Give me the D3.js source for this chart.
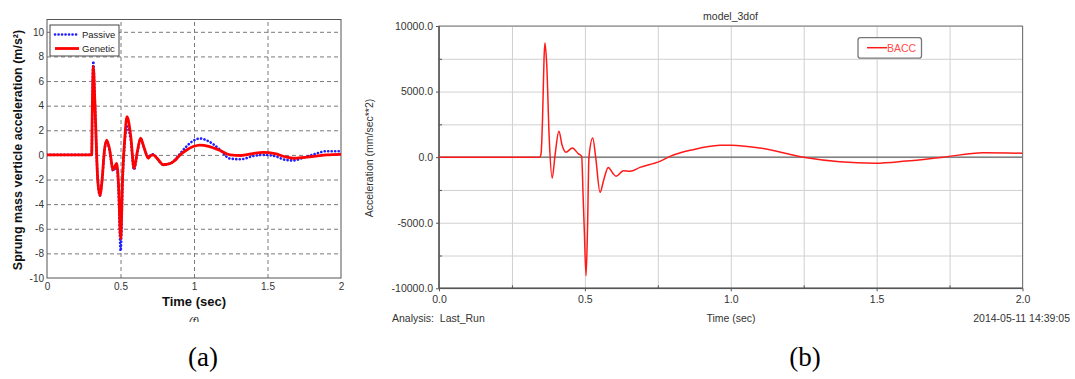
<!DOCTYPE html>
<html><head><meta charset="utf-8">
<script src="https://cdn.jsdelivr.net/npm/d3@7"></script>
<style>
body{margin:0;background:#fff;}
svg{display:block;}
text{font-family:"Liberation Sans",Arial,sans-serif;}
text.serif{font-family:"Liberation Serif","Times New Roman",serif;}
</style></head>
<body>
<script>
// ---------- Data: panel (a) ----------
const timeA = [0, 0.304, 0.308, 0.315, 0.325, 0.345, 0.36, 0.375, 0.39, 0.406, 0.425, 0.45, 0.474, 0.487, 0.501, 0.515, 0.53, 0.544, 0.57, 0.592, 0.615, 0.637, 0.66, 0.689, 0.706, 0.723, 0.75, 0.791, 0.837, 0.87, 0.905, 0.95, 0.995, 1.04, 1.1, 1.17, 1.245, 1.32, 1.4, 1.47, 1.55, 1.62, 1.676, 1.75, 1.83, 1.9, 2.0];
const genetic = [0, 0, 3.5, 7.2, 4.5, -2.0, -3.3, -2.0, 0.3, 1.2, 0.5, -1.2, -0.7, -2.5, -6.8, -1.5, 1.5, 3.1, 1.5, -1.1, 0.3, 1.36, 0.6, -0.27, -0.05, 0.0, -0.3, -0.8, -0.7, -0.45, 0.0, 0.4, 0.68, 0.8, 0.7, 0.4, 0.0, -0.05, 0.1, 0.2, 0.1, -0.15, -0.27, -0.2, -0.1, 0.0, 0.05];
const passive = [0, 0, 3.6, 7.6, 4.6, -2.0, -3.3, -2.0, 0.2, 1.1, 0.4, -1.3, -0.9, -3.0, -7.8, -2.0, 1.2, 2.3, 1.2, -1.2, 0.2, 1.3, 0.6, -0.2, 0.0, 0.05, -0.3, -0.8, -0.7, -0.4, 0.1, 0.7, 1.15, 1.33, 1.1, 0.5, -0.3, -0.35, -0.1, 0.0, -0.1, -0.4, -0.45, -0.2, 0.1, 0.3, 0.3];
const xTicksA = [0, 0.5, 1, 1.5, 2];
const yTicksA = [-10, -8, -6, -4, -2, 0, 2, 4, 6, 8, 10];
const seriesA = ["Passive", "Genetic"];

// ---------- Data: panel (b) ----------
const timeB = [0, 0.346, 0.350, 0.355, 0.360, 0.363, 0.369, 0.378, 0.388, 0.398, 0.411, 0.422, 0.435, 0.457, 0.477, 0.489, 0.494, 0.498, 0.504, 0.509, 0.514, 0.527, 0.537, 0.552, 0.565, 0.580, 0.595, 0.607, 0.632, 0.655, 0.689, 0.757, 0.792, 0.871, 0.963, 1.003, 1.1, 1.249, 1.374, 1.494, 1.6, 1.728, 1.865, 2.0];
const bacc = [0, 0, 300, 3000, 7500, 8700, 7180, 1330, -1600, 200, 1970, 900, 370, 700, 270, 60, -3000, -5530, -9040, -5500, 0, 1460, 0, -2680, -1700, -780, -1200, -1460, -1030, -1080, -780, -320, 60, 570, 900, 915, 700, 0, -350, -460, -300, 0, 330, 300];
const xTicksB = [0, 0.5, 1.0, 1.5, 2.0];
const xMinorB = [0.25, 0.75, 1.25, 1.75];
const yTicksB = [-10000, -5000, 0, 5000, 10000];
const yMinorB = [-7500, -2500, 2500, 7500];

const svg = d3.select("body").append("svg").attr("width", 1075).attr("height", 379);

// =================== PANEL (a) ===================
const xA = d3.scaleLinear().domain([0, 2]).range([47, 341]);
const yA = d3.scaleLinear().domain([-10, 11]).range([278, 19.5]);
const gA = svg.append("g");

// dashed grid
gA.append("g").attr("transform", `translate(0,${yA.range()[0]})`)
  .call(d3.axisBottom(xA).tickValues(xTicksA.slice(1, -1)).tickSize(-(yA.range()[0] - yA.range()[1])).tickFormat(""))
  .call(g => g.select(".domain").remove())
  .call(g => g.selectAll("line").attr("stroke", "#7a7a7a").attr("stroke-dasharray", "4,3"));
gA.append("g").attr("transform", `translate(${xA.range()[0]},0)`)
  .call(d3.axisLeft(yA).tickValues(yTicksA.slice(1)).tickSize(-(xA.range()[1] - xA.range()[0])).tickFormat(""))
  .call(g => g.select(".domain").remove())
  .call(g => g.selectAll("line").attr("stroke", "#7a7a7a").attr("stroke-dasharray", "4,3"));

// tick labels
gA.append("g").attr("transform", `translate(0,${yA.range()[0]})`)
  .call(d3.axisBottom(xA).tickValues(xTicksA).tickSize(0).tickPadding(5).tickFormat(d => String(d)))
  .call(g => g.select(".domain").remove())
  .call(g => g.selectAll("text").attr("font-size", 10).attr("fill", "#333"));
gA.append("g").attr("transform", `translate(${xA.range()[0]},0)`)
  .call(d3.axisLeft(yA).tickValues(yTicksA).tickSize(0).tickPadding(3).tickFormat(d => String(d)))
  .call(g => g.select(".domain").remove())
  .call(g => g.selectAll("text").attr("font-size", 10).attr("fill", "#333"));

// frame
gA.append("rect").attr("x", xA.range()[0]).attr("y", yA.range()[1])
  .attr("width", xA.range()[1] - xA.range()[0]).attr("height", yA.range()[0] - yA.range()[1])
  .attr("fill", "none").attr("stroke", "#555").attr("stroke-width", 1);

svg.append("clipPath").attr("id", "clipA").append("rect")
  .attr("x", xA.range()[0]).attr("y", yA.range()[1])
  .attr("width", xA.range()[1] - xA.range()[0]).attr("height", yA.range()[0] - yA.range()[1]);

const lineA = vals => d3.line().x((d, i) => xA(timeA[i])).y(d => yA(d)).curve(d3.curveMonotoneX)(vals);
gA.append("path").attr("clip-path", "url(#clipA)").attr("d", lineA(passive))
  .attr("fill", "none").attr("stroke", "#1f1fff").attr("stroke-width", 2.6)
  .attr("stroke-linecap", "round").attr("stroke-dasharray", "0.1,3.4");
gA.append("path").attr("clip-path", "url(#clipA)").attr("d", lineA(genetic))
  .attr("fill", "none").attr("stroke", "#ff0000").attr("stroke-width", 2.8).attr("stroke-linejoin", "round");

// legend (a)
const legA = gA.append("g");
legA.append("rect").attr("x", 50).attr("y", 25).attr("width", 69).attr("height", 31)
  .attr("fill", "#fff").attr("stroke", "#444").attr("stroke-width", 1);
legA.append("line").attr("x1", 55).attr("x2", 79).attr("y1", 34.5).attr("y2", 34.5)
  .attr("stroke", "#1f1fff").attr("stroke-width", 2.6).attr("stroke-linecap", "round").attr("stroke-dasharray", "0.1,3.4");
legA.append("line").attr("x1", 55).attr("x2", 79).attr("y1", 48.5).attr("y2", 48.5)
  .attr("stroke", "#ff0000").attr("stroke-width", 2.8);
legA.selectAll("text.leg").data(seriesA).join("text").attr("class", "leg")
  .attr("x", 82).attr("y", (d, i) => 38 + i * 14).attr("font-size", 9.5).attr("fill", "#222").text(d => d);

// titles (a)
gA.append("text").attr("transform", "translate(22,150) rotate(-90)").attr("text-anchor", "middle")
  .attr("font-size", 12.5).attr("font-weight", "bold").attr("fill", "#111")
  .text("Sprung mass verticle acceleration (m/s²)");
gA.append("text").attr("x", 194).attr("y", 306).attr("text-anchor", "middle")
  .attr("font-size", 13).attr("font-weight", "bold").attr("fill", "#111").text("Time (sec)");
svg.append("clipPath").attr("id", "clipF").append("rect").attr("x", 170).attr("y", 300).attr("width", 50).attr("height", 22);
gA.append("text").attr("clip-path", "url(#clipF)").attr("x", 194).attr("y", 325).attr("text-anchor", "middle")
  .attr("font-size", 11).attr("font-style", "italic").attr("fill", "#333").text("(f)");
svg.append("text").attr("class", "serif").attr("x", 203).attr("y", 366).attr("text-anchor", "middle")
  .attr("font-size", 27).attr("fill", "#000").text("(a)");

// =================== PANEL (b) ===================
const xB = d3.scaleLinear().domain([0, 2]).range([439, 1022.5]);
const yB = d3.scaleLinear().domain([-10000, 10000]).range([288.3, 26]);
const gB = svg.append("g");
const wB = xB.range()[1] - xB.range()[0], hB = yB.range()[0] - yB.range()[1];

// light grid every quarter
gB.append("g").attr("transform", `translate(0,${yB.range()[0]})`)
  .call(d3.axisBottom(xB).tickValues([...xTicksB, ...xMinorB]).tickSize(-hB).tickFormat(""))
  .call(g => g.select(".domain").remove())
  .call(g => g.selectAll("line").attr("stroke", "#d0d0d0").attr("stroke-width", 1));
gB.append("g").attr("transform", `translate(${xB.range()[0]},0)`)
  .call(d3.axisLeft(yB).tickValues([...yTicksB, ...yMinorB]).tickSize(-wB).tickFormat(""))
  .call(g => g.select(".domain").remove())
  .call(g => g.selectAll("line").attr("stroke", "#d0d0d0").attr("stroke-width", 1));

// zero line
gB.append("line").attr("x1", xB.range()[0]).attr("x2", xB.range()[1]).attr("y1", yB(0)).attr("y2", yB(0))
  .attr("stroke", "#666").attr("stroke-width", 1.2);

// frame
gB.append("rect").attr("x", xB.range()[0]).attr("y", yB.range()[1]).attr("width", wB).attr("height", hB)
  .attr("fill", "none").attr("stroke", "#777").attr("stroke-width", 1);
gB.append("line").attr("x1", xB.range()[0]).attr("x2", xB.range()[0]).attr("y1", yB.range()[1]).attr("y2", yB.range()[0])
  .attr("stroke", "#555").attr("stroke-width", 1.5);
gB.append("line").attr("x1", xB.range()[0]).attr("x2", xB.range()[1]).attr("y1", yB.range()[0]).attr("y2", yB.range()[0])
  .attr("stroke", "#555").attr("stroke-width", 1.5);

// axes with ticks and labels
gB.append("g").attr("transform", `translate(0,${yB.range()[0]})`)
  .call(d3.axisBottom(xB).tickValues(xTicksB).tickSize(3).tickPadding(4).tickFormat(d => d.toFixed(1)))
  .call(g => g.select(".domain").remove())
  .call(g => g.selectAll("line").attr("stroke", "#555"))
  .call(g => g.selectAll("text").attr("font-size", 10.5).attr("fill", "#333"));
gB.append("g").attr("transform", `translate(0,${yB.range()[0]})`)
  .call(d3.axisTop(xB).tickValues(xMinorB).tickSize(3).tickFormat(""))
  .call(g => g.select(".domain").remove())
  .call(g => g.selectAll("line").attr("stroke", "#555"));
gB.append("g").attr("transform", `translate(${xB.range()[0]},0)`)
  .call(d3.axisLeft(yB).tickValues(yTicksB).tickSize(3).tickPadding(3).tickFormat(d => d.toFixed(1)))
  .call(g => g.select(".domain").remove())
  .call(g => g.selectAll("line").attr("stroke", "#555"))
  .call(g => g.selectAll("text").attr("font-size", 10.5).attr("fill", "#333"));
gB.append("g").attr("transform", `translate(${xB.range()[0]},0)`)
  .call(d3.axisRight(yB).tickValues(yMinorB).tickSize(3).tickFormat(""))
  .call(g => g.select(".domain").remove())
  .call(g => g.selectAll("line").attr("stroke", "#555"));

// curve
svg.append("clipPath").attr("id", "clipB").append("rect")
  .attr("x", xB.range()[0]).attr("y", yB.range()[1]).attr("width", wB).attr("height", hB);
gB.append("path").attr("clip-path", "url(#clipB)")
  .attr("d", d3.line().x((d, i) => xB(timeB[i])).y(d => yB(d)).curve(d3.curveMonotoneX)(bacc))
  .attr("fill", "none").attr("stroke", "#ff1a1a").attr("stroke-width", 1.5).attr("stroke-linejoin", "round");

// legend (b)
gB.append("rect").attr("x", 858).attr("y", 37.7).attr("width", 63.5).attr("height", 20.5).attr("rx", 2.5)
  .attr("fill", "#fff").attr("stroke", "#777").attr("stroke-width", 1.3);
gB.append("line").attr("x1", 867).attr("x2", 887).attr("y1", 47.7).attr("y2", 47.7)
  .attr("stroke", "#ff1a1a").attr("stroke-width", 1.5);
gB.append("text").attr("x", 887).attr("y", 51.5).attr("font-size", 10.5).attr("fill", "#ff4a4a").text("BACC");

// texts (b)
gB.append("text").attr("x", 730.5).attr("y", 19.5).attr("text-anchor", "middle").attr("font-size", 10.5).attr("fill", "#333").text("model_3dof");
gB.append("text").attr("transform", "translate(373,158) rotate(-90)").attr("text-anchor", "middle")
  .attr("font-size", 10.5).attr("fill", "#333").text("Acceleration (mm/sec**2)");
gB.append("text").attr("x", 731).attr("y", 321.5).attr("text-anchor", "middle").attr("font-size", 10.5).attr("fill", "#333").text("Time (sec)");
gB.append("text").attr("x", 392).attr("y", 321.5).attr("font-size", 10.5).attr("fill", "#333")
  .style("white-space", "pre").text("Analysis:  Last_Run");
gB.append("text").attr("x", 1070).attr("y", 321.5).attr("text-anchor", "end").attr("font-size", 10.5).attr("fill", "#333").text("2014-05-11 14:39:05");
svg.append("text").attr("class", "serif").attr("x", 805).attr("y", 366).attr("text-anchor", "middle")
  .attr("font-size", 27).attr("fill", "#000").text("(b)");
</script>
</body></html>
